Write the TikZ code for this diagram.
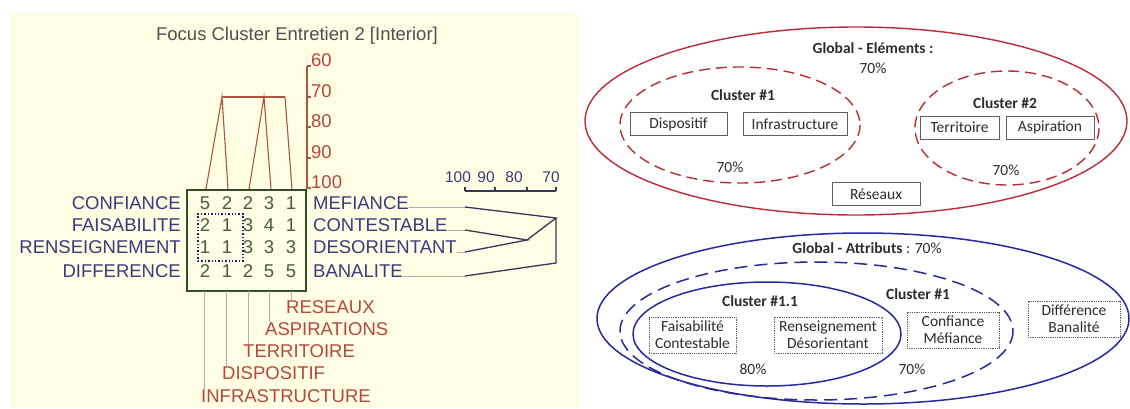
\documentclass[tikz,border=0pt]{standalone}
\usepackage{fontspec}
\setmainfont{Liberation Sans}
\newfontfamily\carl{Carlito}
\definecolor{bgc}{RGB}{255,253,228}
\definecolor{navy}{RGB}{58,58,128}
\definecolor{redlab}{RGB}{178,72,62}
\definecolor{redln}{RGB}{170,85,65}
\definecolor{digc}{RGB}{72,92,58}
\definecolor{boxc}{RGB}{50,78,40}
\definecolor{dotc}{RGB}{30,30,100}
\definecolor{darkln}{RGB}{55,55,88}
\definecolor{greyln}{RGB}{175,175,175}
\definecolor{titc}{RGB}{80,80,80}
\definecolor{ellred}{RGB}{185,45,55}
\definecolor{ellblue}{RGB}{40,40,160}
\definecolor{txt}{RGB}{45,45,45}
\definecolor{boxgrey}{RGB}{95,95,95}
\tikzset{
  lab/.style={text=navy, font=\fontsize{18.5}{20}\selectfont, inner sep=0pt},
  slab/.style={text=navy, font=\fontsize{15.5}{17}\selectfont, inner sep=0pt},
  rlab/.style={text=redlab, font=\fontsize{18.5}{20}\selectfont, inner sep=0pt},
  dig/.style={text=digc, font=\fontsize{18.5}{20}\selectfont, inner sep=0pt},
  ttl/.style={text=titc, font=\fontsize{18.5}{20}\selectfont, inner sep=0pt},
  redtree/.style={draw=redln, line width=1.1pt},
  darktree/.style={draw=darkln, line width=1.3pt},
  greyline/.style={draw=greyln, line width=0.8pt},
  rtxt/.style={text=txt, font=\carl\fontsize{15.5}{17}\selectfont, inner sep=0pt},
  btxt/.style={text=txt, font=\carl\bfseries\fontsize{15.5}{17}\selectfont, inner sep=0pt},
  ebox/.style={draw=boxgrey, line width=0.9pt, text=txt, font=\carl\fontsize{15.5}{17}\selectfont, minimum height=23pt, inner sep=0pt},
  abox/.style={draw=boxgrey, densely dotted, line width=0.8pt, text=txt, align=center, font=\carl\fontsize{15.5}{17}\selectfont, minimum height=36pt, inner sep=0pt},
  redell/.style={draw=ellred, line width=1.4pt},
  redellD/.style={draw=ellred, line width=1.4pt, dash pattern=on 11pt off 6pt},
  blueell/.style={draw=ellblue, line width=1.5pt},
  blueellD/.style={draw=ellblue, line width=1.5pt, dash pattern=on 13pt off 7pt},
}
\begin{document}
\begin{tikzpicture}[x=1pt,y=-1pt]
\useasboundingbox (0,0) rectangle (1130,408);
\fill[white] (0,0) rectangle (1130,408);
\fill[bgc] (10,13) rectangle (578,408);

% ---------- left panel ----------
\node[ttl] (title) at (297,36) {Focus Cluster Entretien 2 [Interior]};

% matrix box
\node[draw=boxc, line width=1.1pt, minimum width=119pt, minimum height=101pt, inner sep=0pt] (mat) at (246.5,240.5) {};
\node[draw=dotc, line width=1.4pt, dotted, minimum width=45pt, minimum height=47pt, inner sep=0pt] (dotbox) at (220.5,237.5) {};

% row labels
\node[lab, anchor=east] (lconf) at (181,203) {CONFIANCE};
\node[lab, anchor=east] (lfais) at (181,225) {FAISABILITE};
\node[lab, anchor=east] (lrens) at (181,247) {RENSEIGNEMENT};
\node[lab, anchor=east] (ldiff) at (181,271) {DIFFERENCE};
\node[lab, anchor=west] (rmef) at (313,203) {MEFIANCE};
\node[lab, anchor=west] (rcont) at (313,225) {CONTESTABLE};
\node[lab, anchor=west] (rdes) at (313,247) {DESORIENTANT};
\node[lab, anchor=west] (rban) at (313,271) {BANALITE};

% digits
\foreach \r/\y/\a/\b/\c/\d/\e in {1/203/5/2/2/3/1, 2/225/2/1/3/4/1, 3/247/1/1/3/3/3, 4/271/2/1/2/5/5}{
  \node[dig] (d\r a) at (205,\y) {\a};
  \node[dig] (d\r b) at (227,\y) {\b};
  \node[dig] (d\r c) at (248,\y) {\c};
  \node[dig] (d\r d) at (269,\y) {\d};
  \node[dig] (d\r e) at (291,\y) {\e};
}

% vertical axis (top)
\coordinate (ax60) at (307,66);
\coordinate (ax100) at (307,189);
\draw[redtree] (ax60) -- (ax100);
\foreach \v/\y in {60/66,70/97,80/127,90/158,100/188}{
  \draw[redtree] (307,\y) -- (311,\y);
  \node[rlab, anchor=base west] (t\v) at (311,\y) {\v};
}

% top dendrogram
\coordinate (c1) at (206,189);
\coordinate (c2) at (228,189);
\coordinate (c3) at (249,189);
\coordinate (c4) at (271,189);
\coordinate (c5) at (292,189);
\coordinate (j12) at (222,97);
\coordinate (j34) at (264,97);
\coordinate (j5) at (285,97);
\draw[redtree] (c1) -- (j12) -- (c2);
\draw[redtree] (c3) -- (j34) -- (c4);
\draw[redtree] (c5) -- (j5);
\draw[redtree] (j12) -- (j5);

% column labels below
\node[rlab, anchor=north west] (lres) at (286,300) {RESEAUX};
\node[rlab, anchor=north west] (lasp) at (265,322) {ASPIRATIONS};
\node[rlab, anchor=north west] (lter) at (243,344) {TERRITOIRE};
\node[rlab, anchor=north west] (ldis) at (222,366) {DISPOSITIF};
\node[rlab, anchor=north west] (linf) at (201,389) {INFRASTRUCTURE};
\coordinate (b1) at (204,291);
\coordinate (b2) at (226,291);
\coordinate (b3) at (248,291);
\coordinate (b4) at (269,291);
\coordinate (b5) at (291,291);
\draw[greyline] (b1) -- (b1 |- linf.north);
\draw[greyline] (b2) -- (b2 |- ldis.north);
\draw[greyline] (b3) -- (b3 |- lter.north);
\draw[greyline] (b4) -- (b4 |- lasp.north);
\draw[greyline] (b5) -- (b5 |- lres.north);

% right dendrogram scale
\coordinate (s100) at (465,191);
\coordinate (s70) at (556,191);
\draw[darktree, line width=1.1pt] (s100) -- (s70);
\foreach \x in {465,495,527,556}{ \draw[darktree, line width=1.1pt] (\x,191) -- (\x,187); }
\node[slab, anchor=base] (s100l) at (458,182) {100};
\node[slab, anchor=base] (s90l) at (486,182) {90};
\node[slab, anchor=base] (s80l) at (514,182) {80};
\node[slab, anchor=base] (s70l) at (551,182) {70};

% right dendrogram
\coordinate (m0) at (465,207);
\coordinate (c0) at (465,230);
\coordinate (e0) at (465,252);
\coordinate (n0) at (465,276);
\coordinate (k80) at (527,240);
\coordinate (k70a) at (556,218);
\coordinate (k70b) at (556,263);
\draw[greyline] (rmef.east |- m0) -- (m0);
\draw[greyline] (rcont.east |- c0) -- (c0);
\draw[greyline] (rdes.east |- e0) -- (e0);
\draw[greyline] (rban.east |- n0) -- (n0);
\draw[darktree] (c0) -- (k80) -- (e0);
\draw[darktree] (m0) -- (k70a) -- (k80);
\draw[darktree] (k70a) -- (k70b) -- (n0);

% ---------- right panel: elements ----------
\draw[redell] (856,121) ellipse [x radius=271, y radius=94];
\draw[redellD] (740,125) ellipse [x radius=120, y radius=58];
\draw[redellD] (1007,128) ellipse [x radius=92, y radius=57];
\node[btxt] (gel) at (873,48) {Global - Eléments :};
\node[rtxt] (gelp) at (873,68) {70\%};
\node[btxt] (cl1) at (743,95) {Cluster \#1};
\node[ebox, minimum width=97pt] (disp) at (678.5,124) {Dispositif};
\node[ebox, minimum width=104pt] (infra) at (795,124) {Infrastructure};
\node[rtxt] (cl1p) at (730,167) {70\%};
\node[btxt] (cl2) at (1005,103) {Cluster \#2};
\node[ebox, minimum width=79pt] (terr) at (959.5,127.5) {Territoire};
\node[ebox, minimum width=88pt] (asp) at (1050,127.5) {Aspiration};
\node[rtxt] (cl2p) at (1006,170) {70\%};
\node[ebox, minimum width=88pt] (res) at (876,194) {Réseaux};

% ---------- right panel: attributes ----------
\draw[blueell] (863,318.5) ellipse [x radius=266, y radius=85.5];
\draw[blueellD] (816.5,331) ellipse [x radius=196.5, y radius=69];
\draw[blueell] (767,334) ellipse [x radius=134, y radius=52];
\node[rtxt] (gat) at (867,248) {\textbf{Global - Attributs} : 70\%};
\node[btxt] (c11) at (760,301) {Cluster \#1.1};
\node[btxt] (c1b) at (918,294) {Cluster \#1};
\node[abox, minimum width=87pt] (fais) at (692.5,335) {Faisabilité\\Contestable};
\node[abox, minimum width=108pt] (rens) at (828,335) {Renseignement\\Désorientant};
\node[abox, minimum width=92pt] (conf) at (953,330) {Confiance\\Méfiance};
\node[abox, minimum width=92pt] (diff) at (1074,319) {Différence\\Banalité};
\node[rtxt] (c11p) at (753,369) {80\%};
\node[rtxt] (c1bp) at (912,369) {70\%};
\end{tikzpicture}
\end{document}
